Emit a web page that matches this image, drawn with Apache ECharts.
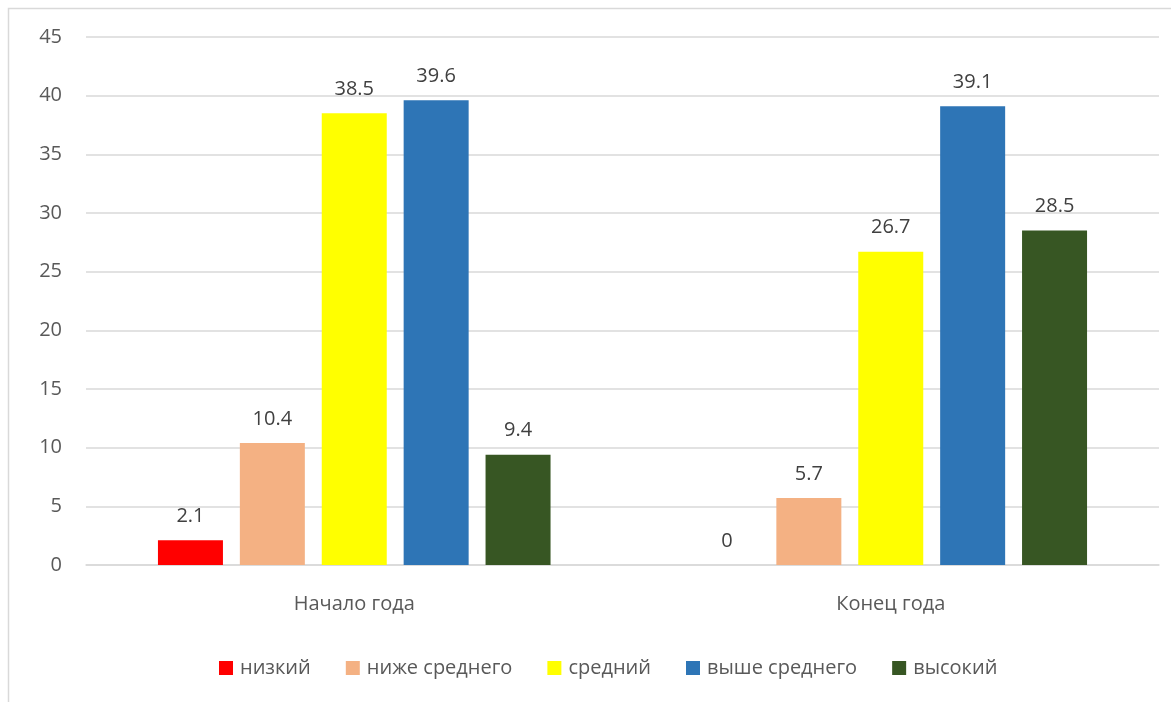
<!DOCTYPE html>
<html><head><meta charset="utf-8">
<script src="https://cdn.jsdelivr.net/npm/echarts@6/dist/echarts.min.js"></script>
<style>html,body{margin:0;padding:0;background:#fff;}#c{width:1171px;height:702px;}</style>
</head><body><div id="c"></div>
<script>
const categories = ['Начало года', 'Конец года'];
const seriesNames = ['низкий', 'ниже среднего', 'средний', 'выше среднего', 'высокий'];
const nizkiy = [2.1, 0];
const nizheSrednego = [10.4, 5.7];
const sredniy = [38.5, 26.7];
const vysheSrednego = [39.6, 39.1];
const vysokiy = [9.4, 28.5];
const yTicks = [0, 5, 10, 15, 20, 25, 30, 35, 40, 45];

const colors = ['#ff0000', '#f4b183', '#ffff00', '#2e75b6', '#375623'];
const values = [nizkiy, nizheSrednego, sredniy, vysheSrednego, vysokiy];
const font = '"Open Sans", "Noto Sans", sans-serif';

const chart = echarts.init(document.getElementById('c'));
chart.setOption({
  animation: false,
  color: colors,
  graphic: [{
    type: 'rect', shape: { x: 8.5, y: 8.5, width: 1200, height: 720 },
    style: { fill: 'none', stroke: '#d9d9d9', lineWidth: 1.5 }, silent: true
  }],
  grid: { left: 86, right: 12, top: 37, bottom: 137, containLabel: false },
  legend: {
    bottom: 19, left: 214, itemWidth: 14, itemHeight: 14, itemGap: 35,
    icon: 'rect',
    textStyle: { fontFamily: font, fontSize: 20, color: '#595959', padding: [0, 0, 0, 2] },
    data: seriesNames
  },
  xAxis: {
    type: 'category', data: categories,
    axisLine: { lineStyle: { color: '#d9d9d9', width: 1.5 } },
    axisTick: { show: false },
    axisLabel: { fontFamily: font, fontSize: 20, color: '#595959', margin: 29 }
  },
  yAxis: {
    type: 'value', min: yTicks[0], max: yTicks[yTicks.length - 1], interval: 5,
    axisLine: { show: false }, axisTick: { show: false },
    splitLine: { lineStyle: { color: '#d9d9d9', width: 1.5 } },
    axisLabel: { fontFamily: font, fontSize: 20, color: '#595959', margin: 24 }
  },
  series: seriesNames.map((n, i) => ({
    name: n, type: 'bar', data: values[i],
    barWidth: 65, barGap: '26%', barCategoryGap: '27%',
    itemStyle: { color: colors[i] },
    label: { show: true, position: 'top', distance: 14, fontFamily: font, fontSize: 20, color: '#404040' }
  }))
});
</script></body></html>
